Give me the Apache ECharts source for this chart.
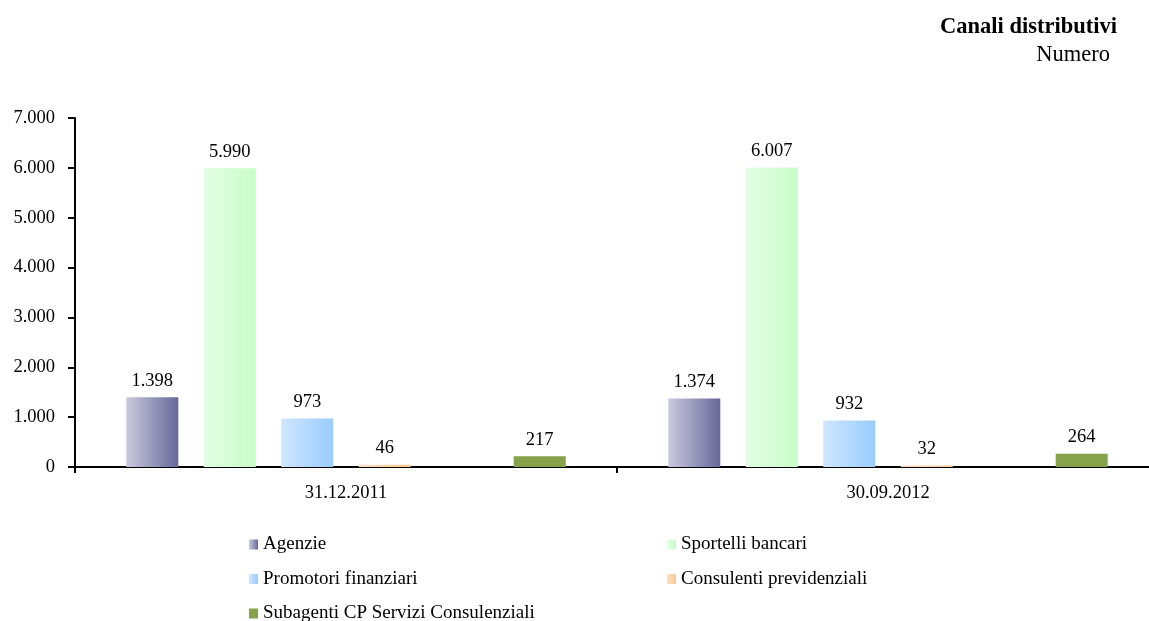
<!DOCTYPE html>
<html>
<head>
<meta charset="utf-8">
<script src="https://cdn.jsdelivr.net/npm/echarts@6/dist/echarts.min.js"></script>
<style>
  html, body { margin: 0; padding: 0; background: #fff; overflow: hidden; }
  /* the category axis runs slightly past the right edge of the window */
  #chart { width: 1170px; height: 621px; }
</style>
</head>
<body>
<div id="chart"></div>
<script>
// Distribution channels, count per reporting date
const categories = ['31.12.2011', '30.09.2012'];
const agenzie = [1398, 1374];
const sportelli = [5990, 6007];
const promotori = [973, 932];
const consulenti = [46, 32];
const subagenti = [217, 264];
const yTicks = [0, 1000, 2000, 3000, 4000, 5000, 6000, 7000];

const FONT = '"Liberation Serif", "DejaVu Serif", serif';

function fmt(v) {
  return String(v).replace(/\B(?=(\d{3})+(?!\d))/g, '.');
}

function hGrad(a, b) {
  return new echarts.graphic.LinearGradient(0, 0, 1, 0, [
    { offset: 0, color: a },
    { offset: 1, color: b }
  ]);
}

const label = {
  show: true,
  position: 'top',
  distance: 7,
  fontFamily: FONT,
  fontSize: 18.5,
  color: '#000',
  formatter: p => fmt(p.value)
};

function bar(name, data, color) {
  return {
    name: name,
    type: 'bar',
    data: data,
    barWidth: 52,
    barGap: '49%',
    itemStyle: { color: color },
    label: label
  };
}

const series = [
  bar('Agenzie', agenzie, hGrad('#cacade', '#66669a')),
  bar('Sportelli bancari', sportelli, hGrad('#e2ffe2', '#c8fcc8')),
  bar('Promotori finanziari', promotori, hGrad('#cfe6ff', '#99ccff')),
  bar('Consulenti previdenziali', consulenti, hGrad('#fde0c2', '#fcc891')),
  // empty slot between the fourth and fifth bar of each group
  { name: '', type: 'bar', data: [null, null], barWidth: 52, barGap: '49%', silent: true },
  bar('Subagenti CP Servizi Consulenziali', subagenti, '#86a24a')
];

const legendText = { fontFamily: FONT, fontSize: 19, color: '#000' };
const legendBase = {
  orient: 'vertical',
  top: 530,
  height: 120,
  icon: 'rect',
  itemWidth: 9, itemHeight: 10, itemGap: 15.5,
  textStyle: legendText
};

const option = {
  animation: false,
  backgroundColor: '#fff',
  graphic: [
    {
      type: 'text', right: 53, top: 16,
      style: { text: 'Canali distributivi', font: 'bold 22.5px ' + FONT, fill: '#000' }
    },
    {
      type: 'text', right: 60, top: 44,
      style: { text: 'Numero', font: '22.5px ' + FONT, fill: '#000' }
    }
  ],
  legend: [
    Object.assign({}, legendBase, {
      data: ['Agenzie', 'Promotori finanziari', 'Subagenti CP Servizi Consulenziali'],
      left: 244
    }),
    Object.assign({}, legendBase, {
      data: ['Sportelli bancari', 'Consulenti previdenziali'],
      left: 662
    })
  ],
  grid: { left: 75, top: 118, width: 1084, height: 349, containLabel: false },
  xAxis: {
    type: 'category',
    data: categories,
    axisLine: { lineStyle: { color: '#000', width: 2 } },
    axisTick: { show: true, length: 6, lineStyle: { color: '#000', width: 2 } },
    axisLabel: { fontFamily: FONT, fontSize: 18.5, color: '#000', margin: 17 },
    splitLine: { show: false }
  },
  yAxis: {
    type: 'value',
    min: yTicks[0],
    max: yTicks[yTicks.length - 1],
    interval: 1000,
    axisLine: { show: true, lineStyle: { color: '#000', width: 2 } },
    axisTick: { show: true, length: 7, lineStyle: { color: '#000', width: 2 } },
    axisLabel: { fontFamily: FONT, fontSize: 18.5, color: '#000', margin: 20, formatter: v => fmt(v) },
    splitLine: { show: false }
  },
  series: series
};

echarts.init(document.getElementById('chart'), null, { renderer: 'canvas' }).setOption(option);
</script>
</body>
</html>
